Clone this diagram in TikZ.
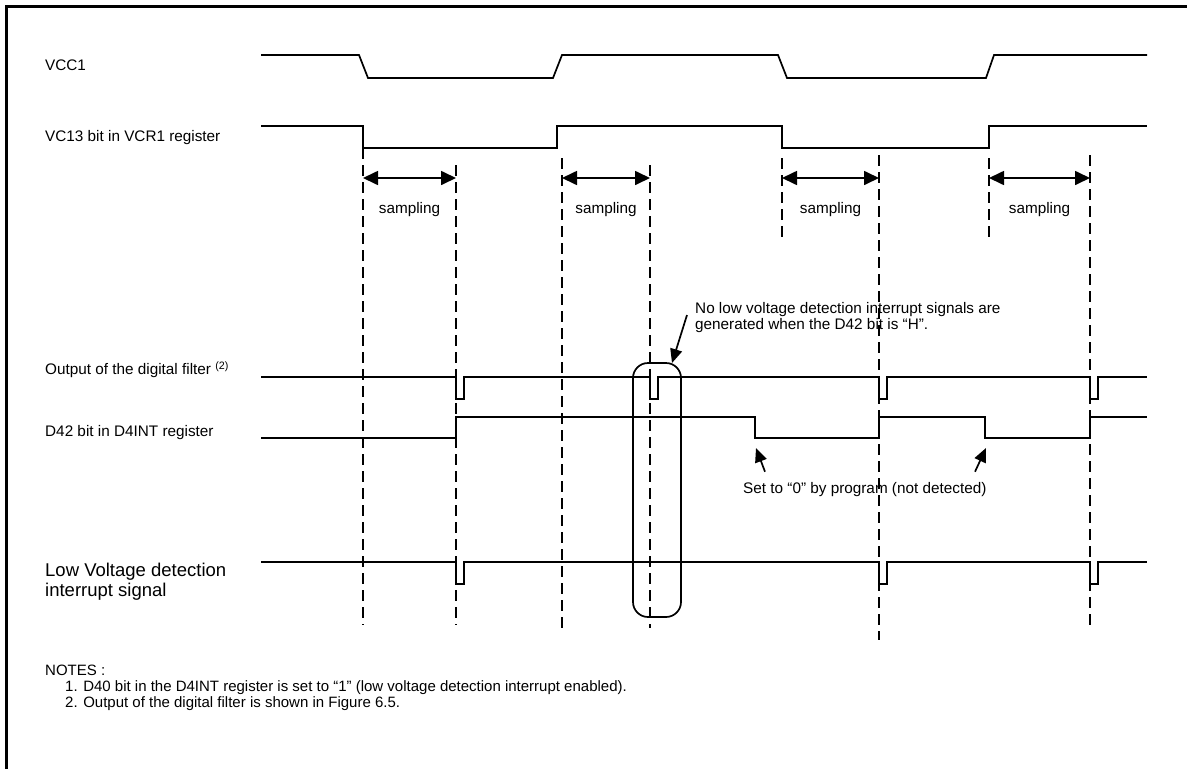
\documentclass[tikz,border=0pt]{standalone}
\usepackage{fontspec}
\setmainfont{Liberation Sans}
\usetikzlibrary{arrows.meta,positioning,calc}

\tikzset{
    wave/.style={line width=1.7pt},
    sampleline/.style={line width=2.8pt, dash pattern=on 11pt off 6pt},
    period/.style={line width=1.7pt, {Triangle[length=15pt,width=14pt]}-{Triangle[length=15pt,width=14pt]}},
    callout/.style={line width=1.7pt, -{Triangle[length=14pt,width=12pt]}},
    siglabel/.style={anchor=base west, inner sep=0pt, font=\fontsize{15.3}{16.7}\selectfont},
}

\begin{document}
\begin{tikzpicture}[x=1pt,y=-1pt]
    \useasboundingbox (0,0) rectangle (1187,769);
    \draw[line width=3.2pt] (6.5,769) -- (6.5,6.5) -- (1187,6.5); % frame

    % signal names
    \node[siglabel] (vcc) at (45,70.5) {VCC1};
    \node[siglabel] (vcbit) at (45,141) {VC13 bit in VCR1 register};
    \node[siglabel] (filter) at (45,374.5) {Output of the digital filter \textsuperscript{(2)}};
    \node[siglabel] (dbit) at (45,436.5) {D42 bit in D4INT register};
    \node[siglabel, anchor=north west, align=left, font=\fontsize{18.5}{20}\selectfont] (lvd) at (45,562.8) {Low Voltage detection\\interrupt signal};

    % waveforms
    \draw[wave] (261,55) -- (359,55) -- (368,78) -- (553,78) -- (562,55) -- (778,55) -- (787,78) -- (986,78) -- (994,55) -- (1147,55);
    \draw[wave] (261,126) -| (363,148) -| (557,126) -| (782,148) -| (989,126) -- (1147,126);
    \draw[wave] (261,377) -| (456,399) -| (464,377) -| (650,399) -| (658,377) -| (879,399) -| (887,377) -| (1090,399) -| (1098,377) -- (1147,377);
    \draw[wave] (261,438) -| (456,417) -| (755,438) -| (879,417) -| (985,438) -| (1090,417) -- (1147,417);
    \draw[wave] (261,562) -| (456,584) -| (464,562) -| (879,584) -| (887,562) -| (1090,584) -| (1098,562) -- (1147,562);

    % sampling windows
    \foreach \x/\ya/\yb in {363/148/625, 456/165/625, 562/158/628, 650/165/628, 782/158/243, 879/155/640, 989/158/243, 1090/155/628}
        \draw[sampleline] (\x,\ya) -- (\x,\yb);
    \foreach \a/\b [count=\i] in {363/456, 562/650, 782/879, 989/1090} {
        \draw[period] (\a,178) -- (\b,178);
        \node[siglabel, anchor=base] (samp\i) at ({(\a+\b)/2},213) {sampling};
    }

    % no interrupt while D42 is high
    \draw[wave, rounded corners=15pt] (633,363) rectangle (681,617);
    \node[siglabel, anchor=north west, align=left] (nolow) at (695,302) {No low voltage detection interrupt signals are\\generated when the D42 bit is “H”.};
    \coordinate (nolowtail) at (687,315);
    \coordinate (boxtop) at (672,363);
    \draw[callout] (nolowtail) -- (boxtop);

    % cleared by program
    \node[siglabel] (setzero) at (743,493) {Set to “0” by program (not detected)};
    \coordinate (clearA) at (756,448);
    \coordinate (clearB) at (986,448);
    \draw[callout] ($(setzero.north west)+(22,-10)$) -- (clearA);
    \draw[callout] ($(setzero.north west)+(232,-10)$) -- (clearB);

    % notes
    \node[siglabel, anchor=north west, align=left, font=\fontsize{15}{16}\selectfont] (notes) at (45,665) {NOTES :\\\hspace*{20pt}1. D40 bit in the D4INT register is set to “1” (low voltage detection interrupt enabled).\\\hspace*{20pt}2. Output of the digital filter is shown in Figure 6.5.};
\end{tikzpicture}
\end{document}
